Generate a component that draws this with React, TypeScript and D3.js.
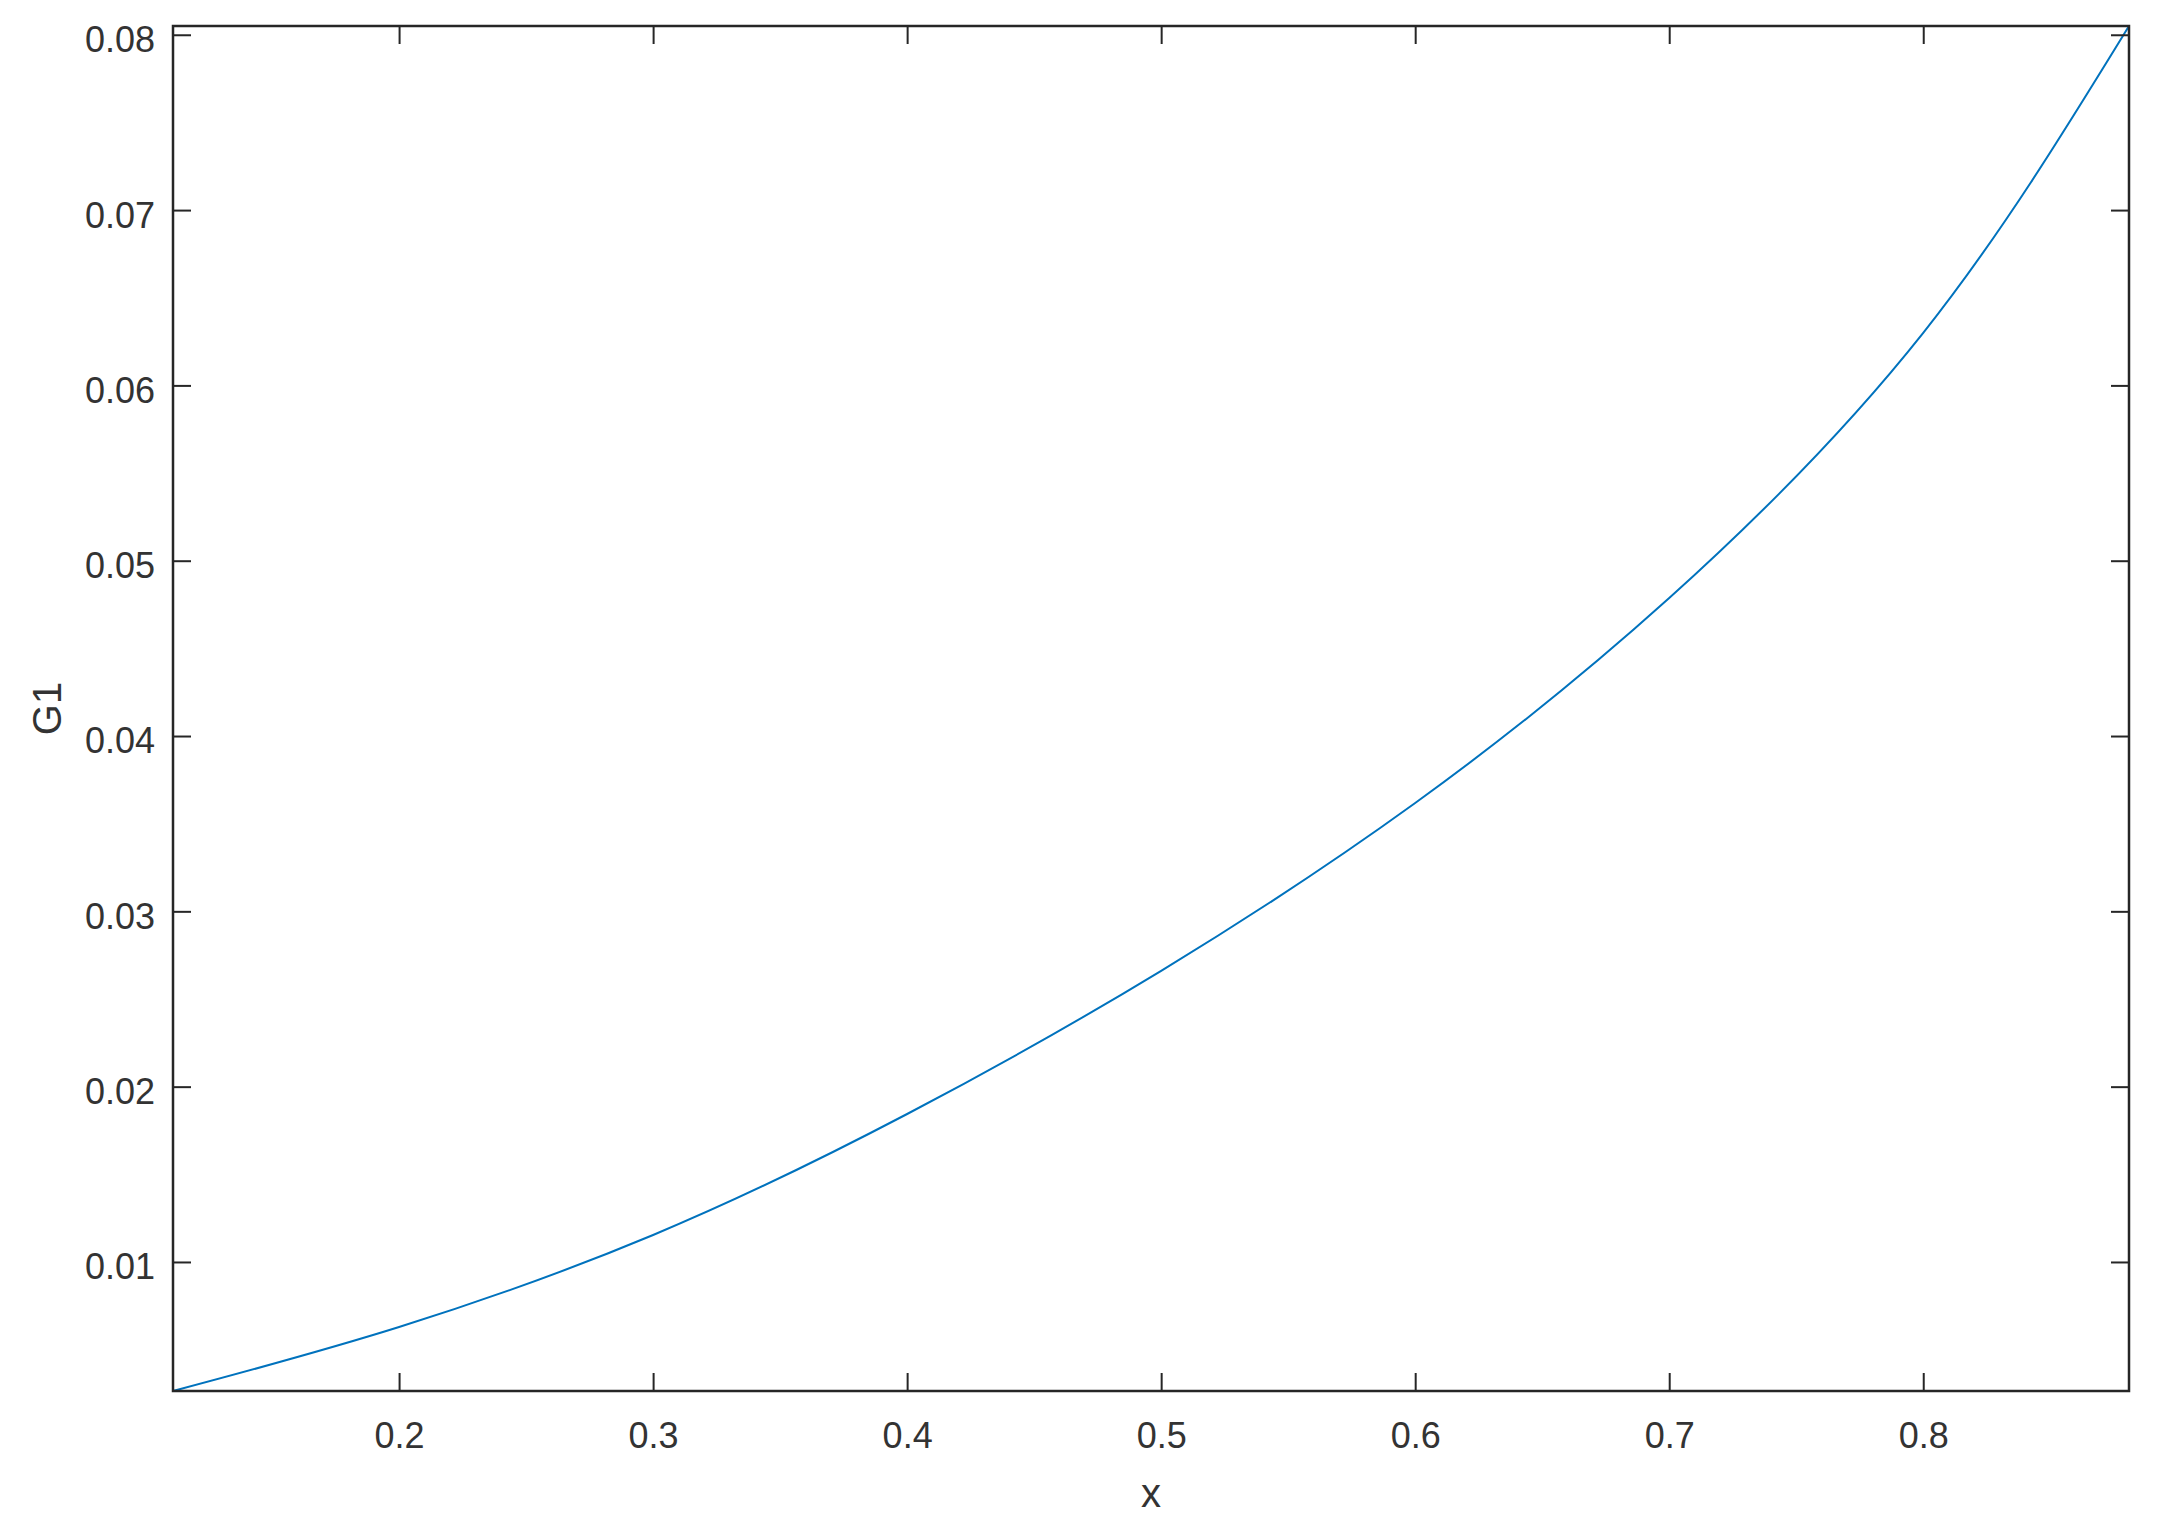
import React, { useEffect, useRef } from "react";
import * as d3 from "d3";

const W = 2166;
const H = 1532;
const margin = { top: 26, right: 37, bottom: 141, left: 173 };
const width = W - margin.left - margin.right;
const height = H - margin.top - margin.bottom;

// values
const xValues = [0.111, 0.2, 0.3, 0.4, 0.5, 0.6, 0.7, 0.8, 0.881];
const g1Values = [0.00264, 0.00629, 0.01154, 0.01844, 0.02661, 0.03618, 0.04787, 0.0630, 0.0805];
const xTicks = [0.2, 0.3, 0.4, 0.5, 0.6, 0.7, 0.8];
const yTicks = [0.01, 0.02, 0.03, 0.04, 0.05, 0.06, 0.07, 0.08];
const xDomain = [0.111, 0.881];
const yDomain = [0.00264, 0.0805];

const axisColor = "#262626";
const textColor = "#333333";
const lineColor = "#0072BD";
const font = "'Liberation Sans', Arial, Helvetica, sans-serif";

function renderChart(svgEl: SVGSVGElement) {
  const svg = d3.select(svgEl);
  svg.selectAll("*").remove();

  const g = svg.append("g").attr("transform", `translate(${margin.left},${margin.top})`);

  const x = d3.scaleLinear().domain(xDomain).range([0, width]);
  const y = d3.scaleLinear().domain(yDomain).range([height, 0]);

  // curve
  const data = xValues.map((v, i) => [v, g1Values[i]] as [number, number]);
  const line = d3.line<[number, number]>()
    .x(d => x(d[0]))
    .y(d => y(d[1]))
    .curve(d3.curveNatural);

  g.append("path")
    .datum(data)
    .attr("fill", "none")
    .attr("stroke", lineColor)
    .attr("stroke-width", 2)
    .attr("d", line);

  const tickLen = 18;

  // bottom axis
  const bottom = g.append("g")
    .attr("transform", `translate(0,${height})`)
    .call(d3.axisBottom(x).tickValues(xTicks).tickSize(-tickLen).tickPadding(31).tickFormat(d3.format("")));
  // left axis
  const left = g.append("g")
    .call(d3.axisLeft(y).tickValues(yTicks).tickSize(-tickLen).tickPadding(18).tickFormat(d3.format("")));
  // mirrored ticks top/right
  const top = g.append("g")
    .call(d3.axisTop(x).tickValues(xTicks).tickSize(-tickLen).tickFormat(() => ""));
  const right = g.append("g")
    .attr("transform", `translate(${width},0)`)
    .call(d3.axisRight(y).tickValues(yTicks).tickSize(-tickLen).tickFormat(() => ""));

  [bottom, left, top, right].forEach(a => {
    a.select(".domain").remove();
    a.selectAll("line").attr("stroke", axisColor).attr("stroke-width", 2);
    a.selectAll("text")
      .attr("fill", textColor)
      .style("font-family", font)
      .style("font-size", "36px");
  });
  left.selectAll("text").attr("dy", "0.47em");

  // frame
  g.append("rect")
    .attr("x", 0)
    .attr("y", 0)
    .attr("width", width)
    .attr("height", height)
    .attr("fill", "none")
    .attr("stroke", axisColor)
    .attr("stroke-width", 2.5);

  // axis titles
  g.append("text")
    .attr("x", width / 2)
    .attr("y", 1507 - margin.top)
    .attr("text-anchor", "middle")
    .attr("fill", textColor)
    .style("font-family", font)
    .style("font-size", "40px")
    .text("x");

  g.append("text")
    .attr("transform", `translate(${61 - margin.left},${height / 2}) rotate(-90)`)
    .attr("text-anchor", "middle")
    .attr("fill", textColor)
    .style("font-family", font)
    .style("font-size", "40px")
    .text("G1");
}

export default function App() {
  const svgRef = useRef<SVGSVGElement>(null);

  useEffect(() => {
    if (svgRef.current) renderChart(svgRef.current);
  }, []);

  return (
    <div style={{ position: "absolute", left: 0, top: 0, background: "#fff" }}>
      <svg ref={svgRef} width={W} height={H} style={{ display: "block" }}></svg>
    </div>
  );
}
